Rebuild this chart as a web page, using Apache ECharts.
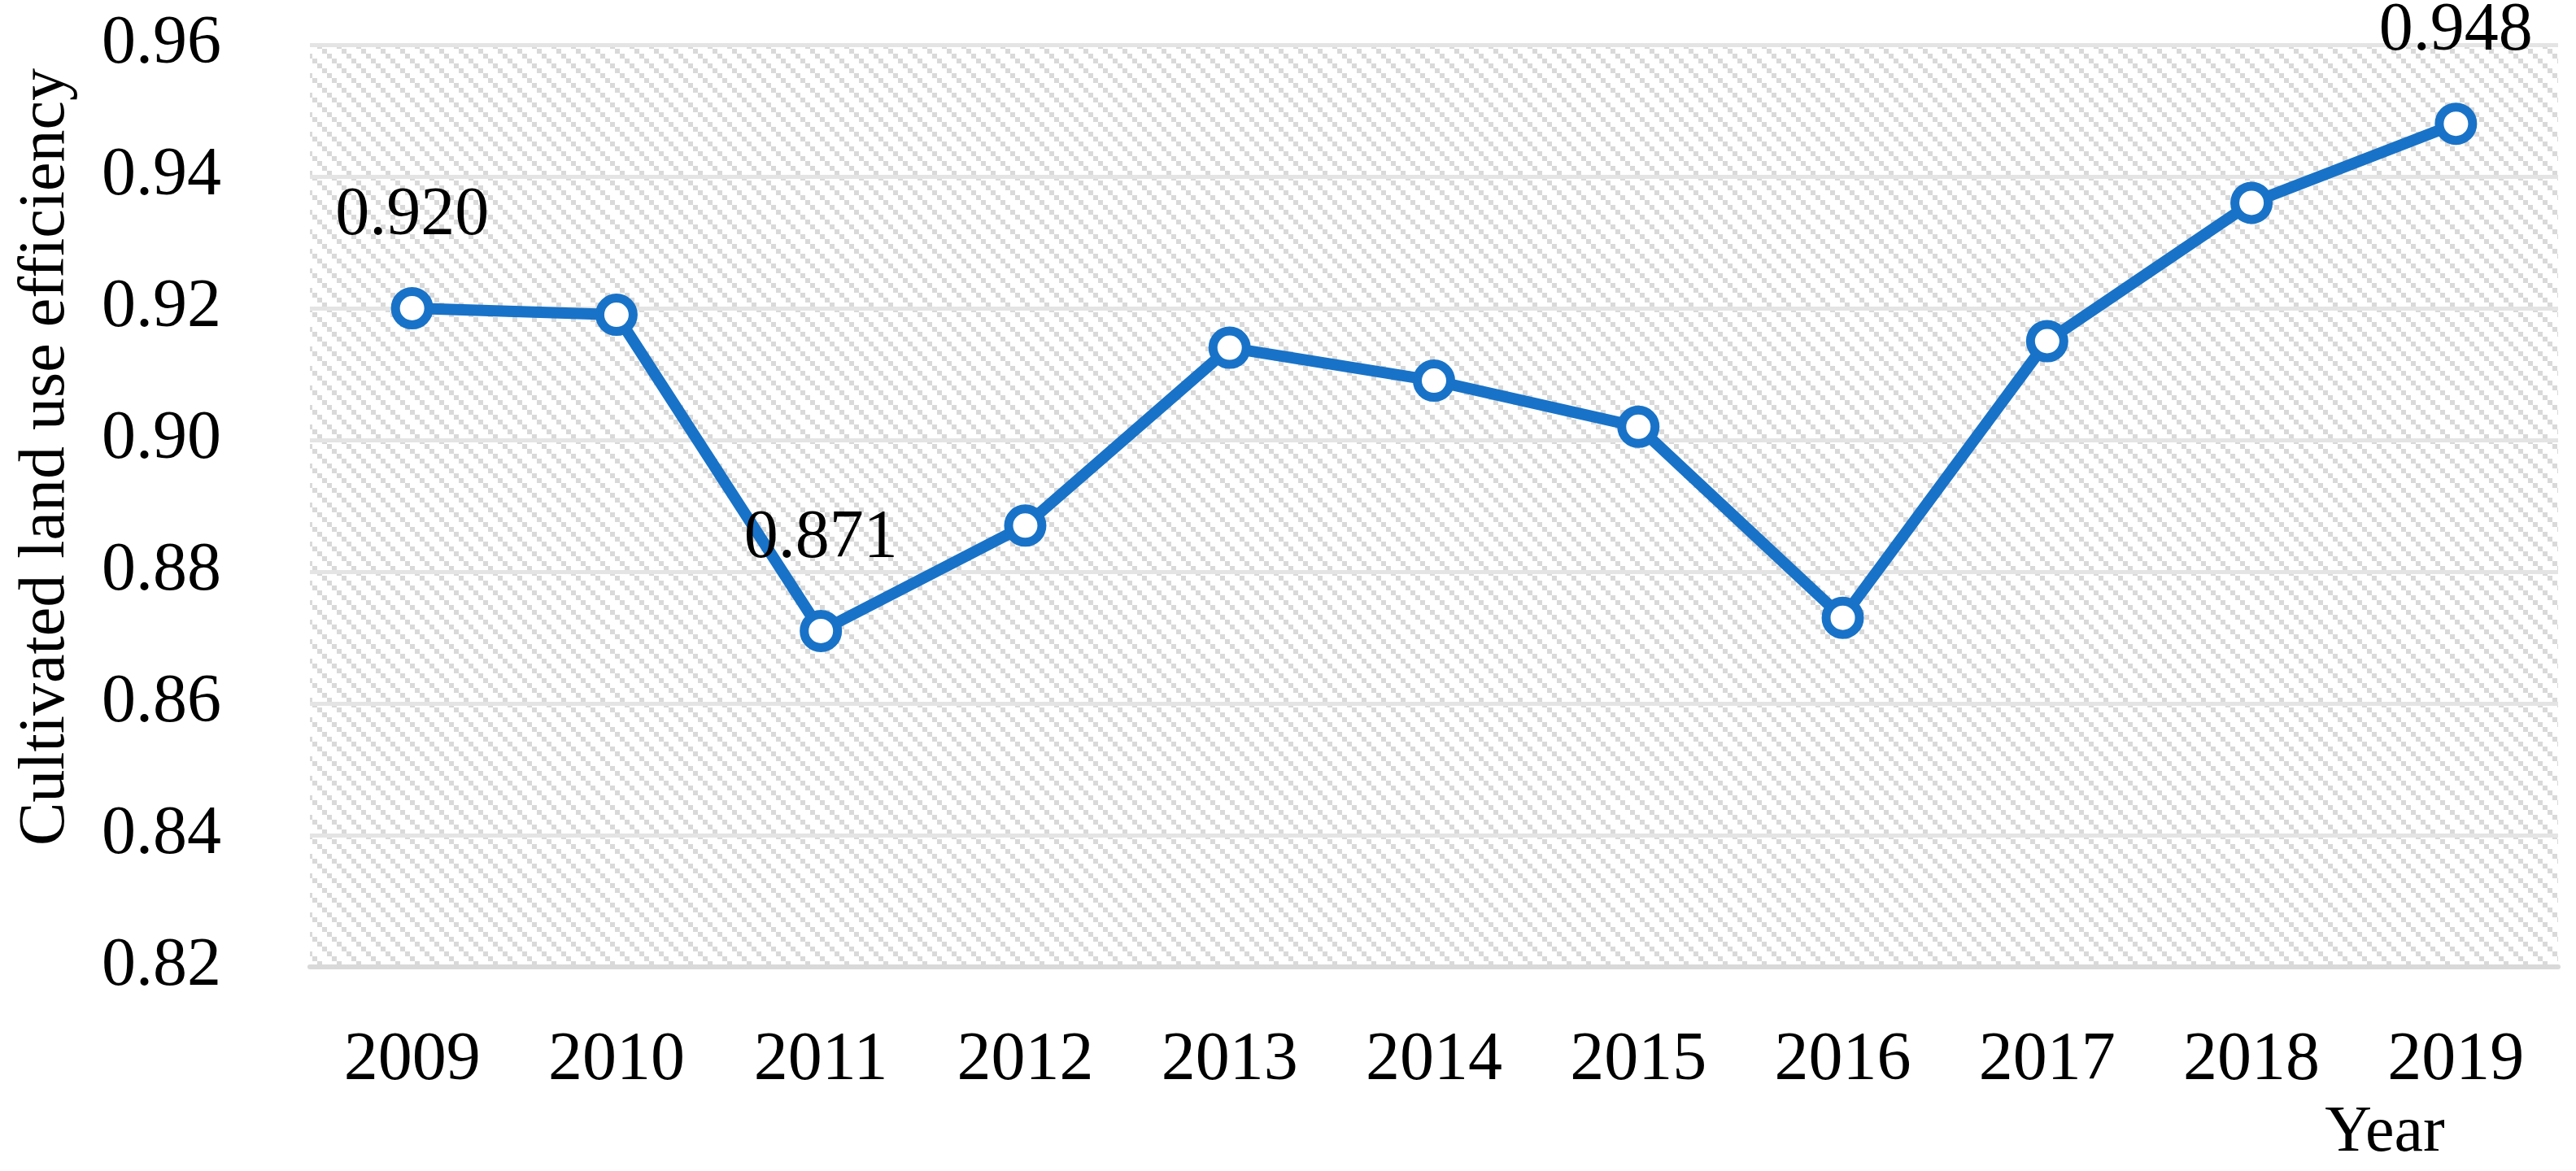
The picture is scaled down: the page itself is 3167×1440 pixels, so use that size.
<!DOCTYPE html>
<html>
<head>
<meta charset="utf-8">
<script src="https://cdn.jsdelivr.net/npm/echarts@6/dist/echarts.min.js"></script>
<style>
  html, body { margin: 0; padding: 0; background: #ffffff; }
  #chart { width: 3167px; height: 1440px; }
</style>
</head>
<body>
<div id="chart"></div>
<script>
// ---- data ----
const years = ['2009', '2010', '2011', '2012', '2013', '2014', '2015', '2016', '2017', '2018', '2019'];
const efficiency = [0.920, 0.919, 0.871, 0.887, 0.914, 0.909, 0.902, 0.873, 0.915, 0.936, 0.948];
const labelledYears = ['2009', '2011', '2019'];
const yMin = 0.82;
const yMax = 0.96;
const yStep = 0.02;
const yTitle = 'Cultivated land use efficiency';
const xTitle = 'Year';

// ---- hatch pattern ----
function makeHatch() {
  const size = 24, sq = 6;
  const c = document.createElement('canvas');
  c.width = size; c.height = size;
  const ctx = c.getContext('2d');
  ctx.fillStyle = '#ffffff';
  ctx.fillRect(0, 0, size, size);
  ctx.fillStyle = '#d9d9d9';
  for (let k = 0; k < size / sq; k++) {
    ctx.fillRect(k * sq, k * sq, sq, sq);
  }
  return c;
}

const FONT = 'Liberation Serif';
const BLUE = '#1873c8';

const chart = echarts.init(document.getElementById('chart'), null, { renderer: 'canvas' });
chart.setOption({
  animation: false,
  backgroundColor: '#ffffff',
  grid: {
    left: 381, right: 22, top: 55, bottom: 251,
    show: true,
    borderWidth: 0,
    backgroundColor: { image: makeHatch(), repeat: 'repeat' }
  },
  xAxis: {
    type: 'category',
    data: years,
    boundaryGap: true,
    axisLine: { show: true, lineStyle: { color: '#d9d9d9', width: 6 } },
    axisTick: { show: false },
    axisLabel: { color: '#000', fontFamily: FONT, fontSize: 84, margin: 74 },
    splitLine: { show: false }
  },
  yAxis: {
    type: 'value',
    min: yMin, max: yMax, interval: yStep,
    axisLine: { show: false },
    axisTick: { show: false },
    axisLabel: {
      color: '#000', fontFamily: FONT, fontSize: 84, margin: 109,
      formatter: v => v.toFixed(2)
    },
    splitLine: { show: true, lineStyle: { color: '#e4e4e4', width: 5 } }
  },
  graphic: [
    {
      type: 'text', x: 57, y: 562, rotation: Math.PI / 2,
      style: { text: yTitle, fontFamily: FONT, fontSize: 80, fill: '#000', align: 'center', verticalAlign: 'middle' }
    },
    {
      type: 'text', x: 2932, y: 1394,
      style: { text: xTitle, fontFamily: FONT, fontSize: 80, fill: '#000', align: 'center', verticalAlign: 'middle' }
    }
  ],
  series: [{
    type: 'line',
    data: efficiency.map((v, i) => ({
      value: v,
      label: { show: labelledYears.includes(years[i]) }
    })),
    lineStyle: { color: BLUE, width: 14 },
    symbol: 'circle',
    symbolSize: 41,
    showAllSymbol: true,
    itemStyle: { color: '#ffffff', borderColor: BLUE, borderWidth: 11 },
    label: {
      position: 'top', distance: 45,
      color: '#000', fontFamily: FONT, fontSize: 84,
      formatter: p => p.value.toFixed(3)
    },
    z: 5
  }]
});
</script>
</body>
</html>
